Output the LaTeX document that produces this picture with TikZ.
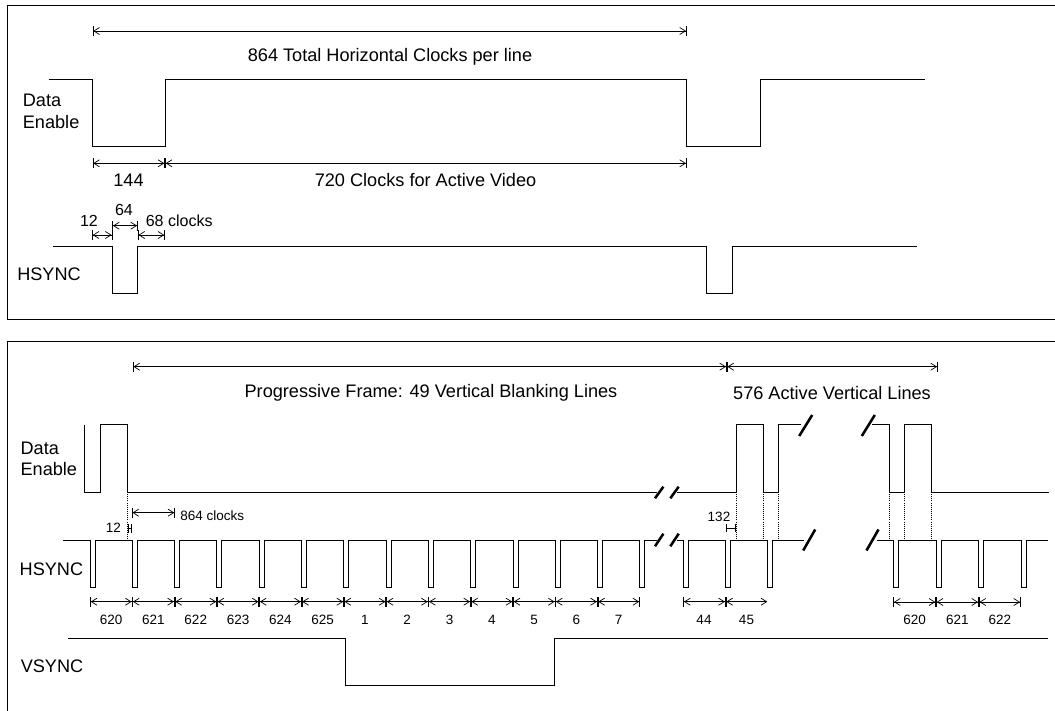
\documentclass[tikz,border=0pt]{standalone}
\usepackage{fontspec}
\setmainfont{Liberation Sans}
\usetikzlibrary{arrows.meta}

\tikzset{
  wave/.style={line width=0.65pt},
  frame/.style={line width=0.6pt},
  dimline/.style={line width=0.5pt, {Bar[width=7pt]Straight Barb[length=4pt,width=5pt]}-{Straight Barb[length=4pt,width=5pt]Bar[width=7pt]}},
  dimopen/.style={line width=0.5pt, {Bar[width=7pt]Straight Barb[length=4pt,width=5pt]}-{Straight Barb[length=4pt,width=5pt]}},
  hbar/.style={line width=0.5pt, {Bar[width=6pt]}-{Bar[width=6pt]}},
  guide/.style={line width=0.5pt, densely dotted},
  cut/.style={line width=1.8pt},
  bigtxt/.style={inner sep=0pt, anchor=base, font=\fontsize{12.9}{15}\selectfont},
  midtxt/.style={inner sep=0pt, anchor=base, font=\fontsize{11.4}{13}\selectfont},
  smalltxt/.style={inner sep=0pt, anchor=base, font=\fontsize{9.6}{11}\selectfont},
}

\begin{document}
\begin{tikzpicture}[x=0.025cm, y=-0.025cm]
    \useasboundingbox (0,0) rectangle (1055,711);
    \draw[frame] (1055,5) -- (7,5) -- (7,319) -- (1055,319);
    \draw[frame] (1055,341) -- (7,341) -- (7,711);

    % one horizontal line
    \def\deHi{79} \def\deLo{146}
    \draw[wave] (49,\deHi) -- (92.5,\deHi) -- (92.5,\deLo) -- (165,\deLo) -- (165,\deHi) -- (686.7,\deHi) -- (686.7,\deLo) -- (760,\deLo) -- (760,\deHi) -- (925,\deHi);
    \def\hsHi{246.7} \def\hsLo{293}
    \draw[wave] (53,\hsHi) -- (112.3,\hsHi) -- (112.3,\hsLo) -- (137.7,\hsLo) -- (137.7,\hsHi) -- (706,\hsHi) -- (706,\hsLo) -- (732,\hsLo) -- (732,\hsHi) -- (917,\hsHi);

    \draw[dimline] (92.5,31) -- (686.7,31);
    \draw[dimline] (92.5,163.3) -- (165,163.3);
    \draw[dimline] (165,163.3) -- (686.7,163.3);
    \draw[dimline] (92,235) -- (112.3,235);
    \draw[dimline] (112.3,225.7) -- (137.7,225.7);
    \draw[dimline] (137.7,235) -- (165,235);

    \node[bigtxt] (total) at (390,61.5) {864 Total Horizontal Clocks per line};
    \node[bigtxt, anchor=base west] (deA) at (22.6,106.7) {Data};
    \node[bigtxt, anchor=base west] (deB) at (22.6,128.3) {Enable};
    \node[bigtxt] (hblank) at (128.5,186) {144};
    \node[bigtxt] (hactive) at (425.5,186) {720 Clocks for Active Video};
    \node[midtxt] (front) at (89,226.7) {12};
    \node[midtxt] (pulse) at (124,215) {64};
    \node[midtxt, anchor=base west] (back) at (145.5,226.7) {68 clocks};
    \node[bigtxt, anchor=base west] (hsA) at (17,280) {HSYNC};

    % one frame
    \def\deHi{424.5} \def\deLo{492}
    \draw[wave] (84.3,\deHi) -- (84.3,\deLo) -- (100.7,\deLo) -- (100.7,\deHi) -- (127.7,\deHi) -- (127.7,\deLo) -- (657,\deLo);
    \draw[wave] (677,\deLo) -- (736,\deLo) -- (736,\deHi) -- (763,\deHi) -- (763,\deLo) -- (778,\deLo) -- (778,\deHi) -- (801,\deHi);
    \draw[wave] (872,\deHi) -- (889,\deHi) -- (889,\deLo) -- (904,\deLo) -- (904,\deHi) -- (931.7,\deHi) -- (931.7,\deLo) -- (1049,\deLo);

    \def\hsHi{540} \def\hsLo{587}
    \draw[wave] (63.3,\hsHi) foreach \k in {0,...,13} { -- ({90+42.3*\k},\hsHi) -- ++(0,47) -- ++(5,0) -- ++(0,-47) } -- (657,\hsHi);
    \draw[wave] (677,\hsHi) foreach \x in {683.3,725.6,767.9} { -- (\x,\hsHi) -- ++(0,47) -- ++(5,0) -- ++(0,-47) } -- (804,\hsHi);
    \draw[wave] (877,\hsHi) foreach \x in {893.3,936,978.7,1021.3} { -- (\x,\hsHi) -- ++(0,47) -- ++(5,0) -- ++(0,-47) } -- (1048.3,\hsHi);

    \draw[wave] (68.3,638.3) -- (345,638.3) -- (345,685.7) -- (554.3,685.7) -- (554.3,638.3) -- (1048,638.3);

    \foreach \x in {127.7,736,763,778,889,904,931.7}
        \draw[guide] (\x,\deLo) -- (\x,\hsHi);

    \foreach \x/\y/\dx/\dy in {659.2/492.5/4.2/5.8, 674.5/492.5/4.2/5.8, 659.2/540/4.2/6.3, 674.5/540/4.2/6.3, 805.7/425.5/6.5/10.5, 868.3/425.5/6.5/10.5, 809.2/540/6/10.5, 872.5/540/6/10.5}
        \draw[cut] ({\x-\dx},{\y+\dy}) -- ({\x+\dx},{\y-\dy});

    \draw[dimline] (132.7,366.7) -- (726.7,366.7);
    \draw[dimline] (726.7,366.7) -- (937.7,366.7);
    \draw[dimline] (131.7,512.7) -- (175,512.7);
    \draw[hbar] (127.7,528.5) -- (131.7,528.5);
    \draw[hbar] (725.7,528) -- (735.7,528);
    \foreach \k in {0,...,12}
        \draw[dimline] ({90+42.3*\k},601.7) -- ({132.3+42.3*\k},601.7);
    \draw[dimline] (683.3,601.7) -- (725.6,601.7);
    \draw[dimopen] (725.6,601.7) -- (767.3,601.7);
    \foreach \a/\b in {893.3/936, 936/978.7, 978.7/1020.7}
        \draw[dimline] (\a,602) -- (\b,602);

    \node[bigtxt] (vblank) at (431,397.7) {Progressive Frame: 49 Vertical Blanking Lines};
    \node[bigtxt] (vactive) at (832,399.3) {576 Active Vertical Lines};
    \node[bigtxt, anchor=base west] (deC) at (20.3,454) {Data};
    \node[bigtxt, anchor=base west] (deD) at (20.3,475) {Enable};
    \node[bigtxt, anchor=base west] (hsB) at (19.4,575) {HSYNC};
    \node[bigtxt, anchor=base west] (vs) at (20.5,672.7) {VSYNC};
    \node[smalltxt] (offA) at (113.5,532.7) {12};
    \node[smalltxt, anchor=base west] (period) at (180,520) {864 clocks};
    \node[smalltxt] (offB) at (719,521.7) {132};
    \foreach \n [count=\k from 0] in {620,621,622,623,624,625,1,2,3,4,5,6,7}
        \node[smalltxt] (ln\k) at ({111.15+42.3*\k},624) {\n};
    \node[smalltxt] (lnA) at (704,624) {44};
    \node[smalltxt] (lnB) at (746.5,624) {45};
    \node[smalltxt] (lnC) at (914.7,624) {620};
    \node[smalltxt] (lnD) at (957.3,624) {621};
    \node[smalltxt] (lnE) at (999.8,624) {622};
\end{tikzpicture}
\end{document}
